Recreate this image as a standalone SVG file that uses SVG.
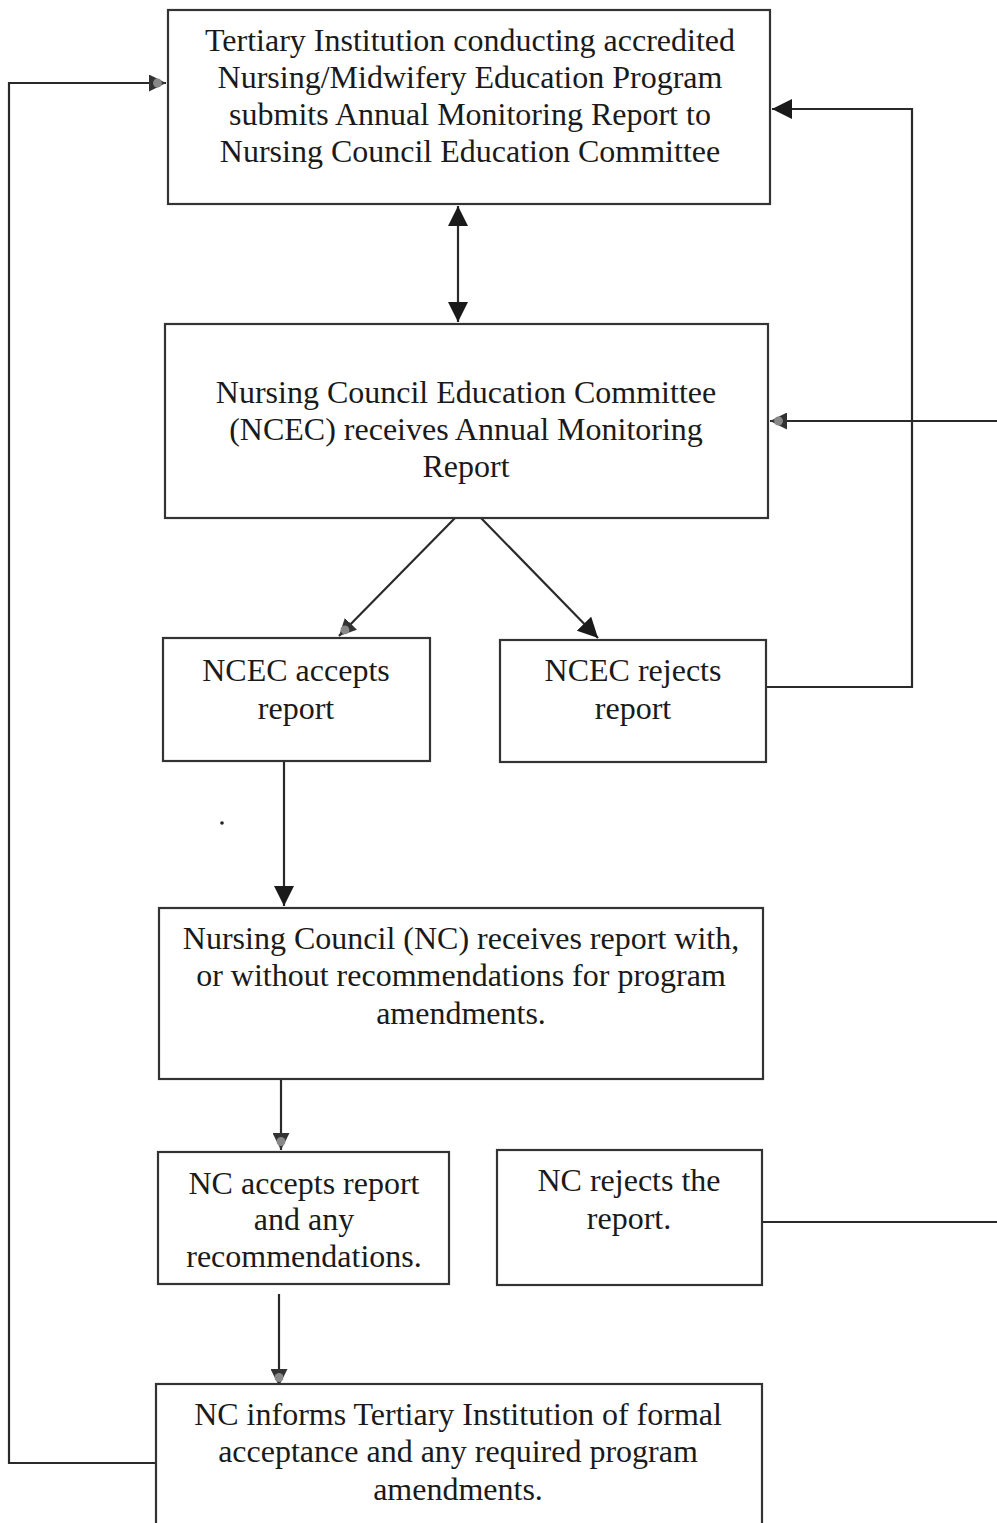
<svg xmlns="http://www.w3.org/2000/svg" width="997" height="1523" viewBox="0 0 997 1523">
<defs>
<style>
.box{fill:#fff;stroke:#333;stroke-width:2.2}
.t{font-family:"Liberation Serif","Times New Roman",serif;font-size:32px;fill:#1a1a1a;text-anchor:middle}
.c{fill:none;stroke:#2a2a2a;stroke-width:2.2}
</style>
<marker id="ahL" viewBox="0 0 10 10" refX="10" refY="5" markerWidth="20" markerHeight="20" markerUnits="userSpaceOnUse" orient="auto-start-reverse"><path d="M0,0 L10,5 L0,10 z" fill="#1a1a1a"/></marker>
<marker id="ahG" viewBox="0 0 10 10" refX="10" refY="5" markerWidth="17" markerHeight="17" markerUnits="userSpaceOnUse" orient="auto-start-reverse"><path d="M0,0 L10,5 L0,10 z" fill="#333"/><circle cx="5" cy="5" r="2.6" fill="#888"/></marker>
</defs>
<rect width="997" height="1523" fill="#fff"/>
<g id="connectors">
<polyline class="c" points="156,1463 9,1463 9,83 166,83" marker-end="url(#ahG)"/>
<polyline class="c" points="766,687 912,687 912,109 772,109" marker-end="url(#ahL)"/>
<line class="c" x1="458" y1="206" x2="458" y2="322" marker-start="url(#ahL)" marker-end="url(#ahL)"/>
<polyline class="c" points="762,1222 997,1222"/>
<line class="c" x1="997" y1="421" x2="770" y2="421" marker-end="url(#ahG)"/>
<line class="c" x1="455" y1="518" x2="339" y2="636" marker-end="url(#ahG)"/>
<line class="c" x1="481" y1="518" x2="598" y2="638" marker-end="url(#ahL)"/>
<line class="c" x1="284" y1="761" x2="284" y2="906" marker-end="url(#ahL)"/>
<line class="c" x1="281" y1="1075" x2="281" y2="1150" marker-end="url(#ahG)"/>
<line class="c" x1="279" y1="1294" x2="279" y2="1386" marker-end="url(#ahG)"/>
<circle cx="222" cy="823" r="1.8" fill="#222"/>
</g>
<g id="n1"><rect class="box" x="168" y="10" width="602" height="194"/>
<text class="t" x="470" y="51">Tertiary Institution conducting accredited</text>
<text class="t" x="470" y="88">Nursing/Midwifery Education Program</text>
<text class="t" x="470" y="125">submits Annual Monitoring Report to</text>
<text class="t" x="470" y="162">Nursing Council Education Committee</text></g>
<g id="n2"><rect class="box" x="165" y="324" width="603" height="194"/>
<text class="t" x="466" y="403">Nursing Council Education Committee</text>
<text class="t" x="466" y="440">(NCEC) receives Annual Monitoring</text>
<text class="t" x="466" y="477">Report</text></g>
<g id="n3"><rect class="box" x="163" y="638" width="267" height="123"/>
<text class="t" x="296" y="681">NCEC accepts</text>
<text class="t" x="296" y="719">report</text></g>
<g id="n4"><rect class="box" x="500" y="640" width="266" height="122"/>
<text class="t" x="633" y="681">NCEC rejects</text>
<text class="t" x="633" y="719">report</text></g>
<g id="n5"><rect class="box" x="159" y="908" width="604" height="171"/>
<text class="t" x="461" y="949">Nursing Council (NC) receives report with,</text>
<text class="t" x="461" y="986">or without recommendations for program</text>
<text class="t" x="461" y="1024">amendments.</text></g>
<g id="n6"><rect class="box" x="158" y="1152" width="291" height="132"/>
<text class="t" x="304" y="1194">NC accepts report</text>
<text class="t" x="304" y="1230">and any</text>
<text class="t" x="304" y="1267">recommendations.</text></g>
<g id="n7"><rect class="box" x="497" y="1150" width="265" height="135"/>
<text class="t" x="629" y="1191">NC rejects the</text>
<text class="t" x="629" y="1229">report.</text></g>
<g id="n8"><rect class="box" x="156" y="1384" width="606" height="160"/>
<text class="t" x="458" y="1425">NC informs Tertiary Institution of formal</text>
<text class="t" x="458" y="1462">acceptance and any required program</text>
<text class="t" x="458" y="1500">amendments.</text></g>
</svg>
